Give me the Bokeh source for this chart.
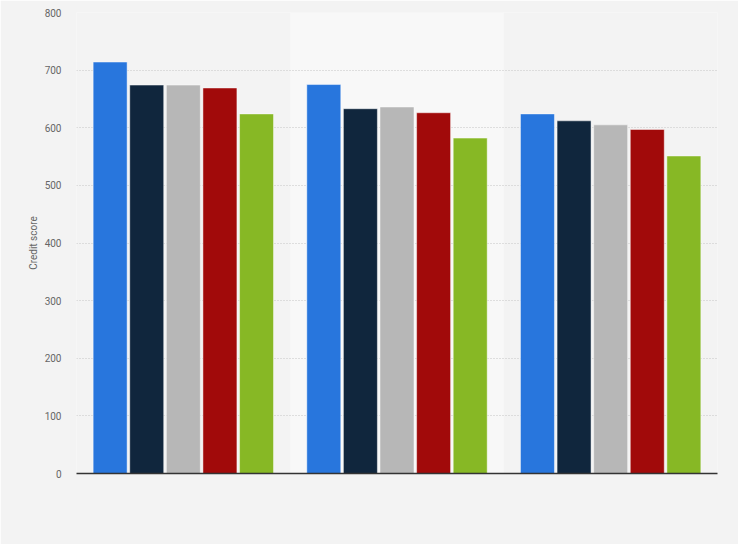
from bokeh.plotting import figure
from bokeh.models import Range1d, FixedTicker, BoxAnnotation, ColumnDataSource
from bokeh.embed import file_html
from bokeh.resources import INLINE

groups = ["Group 1", "Group 2", "Group 3"]
series = ["Series 1", "Series 2", "Series 3", "Series 4", "Series 5"]
colors = ["#2876dd", "#10263d", "#b7b7b7", "#a10a0a", "#87b825"]
s1 = [714, 675, 624]
s2 = [674, 633, 612]
s3 = [674, 636, 605]
s4 = [669, 626, 597]
s5 = [624, 582, 551]
values = [s1, s2, s3, s4, s5]
y_ticks = [0, 100, 200, 300, 400, 500, 600, 700, 800]

W, H = 738, 544
p = figure(width=W, height=H, output_backend="svg", toolbar_location=None,
           x_range=Range1d(0, len(groups)), y_range=Range1d(0, 800),
           min_border_left=76, min_border_right=21, min_border_top=12,
           min_border_bottom=71)
p.background_fill_color = "#f3f3f3"
p.border_fill_color = "#f3f3f3"
p.outline_line_color = None

# highlighted middle category band
p.add_layout(BoxAnnotation(left=1, right=2, bottom=0, top=800,
                           fill_color="#f8f8f8", fill_alpha=1.0,
                           line_color=None, level="image"))

pitch = 0.1713
bw = 0.159
for k, (vals, c) in enumerate(zip(values, colors)):
    xs = [i + 0.5 + (k - 2) * pitch for i in range(len(groups))]
    src = ColumnDataSource(dict(x=xs, top=vals))
    p.vbar(x="x", top="top", width=bw, source=src, fill_color=c,
           line_color="white", line_alpha=0.45, line_width=1)

p.yaxis.ticker = FixedTicker(ticks=y_ticks)
p.yaxis.axis_line_color = None
p.yaxis.major_tick_line_color = None
p.yaxis.minor_tick_line_color = None
p.yaxis.major_label_text_font = "Roboto"
p.yaxis.major_label_text_font_size = "10px"
p.yaxis.major_label_text_color = "#666666"
p.yaxis.major_label_standoff = 9
p.yaxis.axis_label = "Credit score"
p.yaxis.axis_label_text_font = "Roboto"
p.yaxis.axis_label_text_font_size = "10px"
p.yaxis.axis_label_text_font_style = "normal"
p.yaxis.axis_label_text_color = "#666666"
p.yaxis.axis_label_standoff = 3

p.xaxis.ticker = FixedTicker(ticks=[])
p.xaxis.axis_line_color = "#333333"
p.xaxis.axis_line_width = 1.5
p.xaxis.major_tick_line_color = None
p.xaxis.minor_tick_line_color = None

p.xgrid.grid_line_color = None
p.ygrid.ticker = FixedTicker(ticks=y_ticks)
p.ygrid.grid_line_color = "#c4c4c4"
p.ygrid.grid_line_dash = "1 2"
p.ygrid.grid_line_width = 1

open("out.html", "w").write(file_html(p, INLINE))
